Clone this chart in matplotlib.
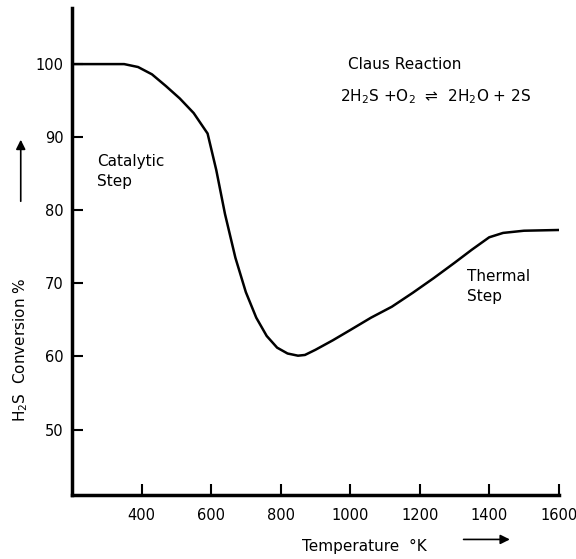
import matplotlib
matplotlib.use("Agg")
import matplotlib.pyplot as plt

# Claus process: H2S conversion vs temperature
temperature = [200, 300, 350, 390, 430, 470, 510, 550, 590, 615, 640, 670, 700,
               730, 760, 790, 820, 850, 870, 900, 950, 1000, 1060, 1120,
               1180, 1240, 1300, 1350, 1400, 1440, 1500, 1600]
conversion = [100, 100, 100, 99.6, 98.6, 97.0, 95.3, 93.3, 90.5, 85.5, 79.5, 73.5, 68.8,
              65.3, 62.8, 61.2, 60.4, 60.1, 60.2, 60.9, 62.2, 63.6, 65.3, 66.8,
              68.7, 70.7, 72.8, 74.6, 76.3, 76.9, 77.2, 77.3]
xticks = [400, 600, 800, 1000, 1200, 1400, 1600]
yticks = [50, 60, 70, 80, 90, 100]

fig = plt.figure(figsize=(5.76, 5.59), dpi=100)
ax = fig.add_axes([0.125, 0.114, 0.845, 0.872])

ax.plot(temperature, conversion, color="black", lw=1.8)

ax.set_xlim(200, 1600)
ax.set_ylim(41, 107.7)
ax.set_xticks(xticks)
ax.set_yticks(yticks)
ax.tick_params(direction="in", length=8, width=1.5, labelsize=10.5)
ax.tick_params(axis="x", pad=9)
ax.tick_params(axis="y", pad=6)
for s in ["top", "right"]:
    ax.spines[s].set_visible(False)
for s in ["left", "bottom"]:
    ax.spines[s].set_linewidth(2.5)

# axis titles with arrows, as in the original
fig.text(0.036, 0.375, "H$_2$S  Conversion %", rotation=90, ha="center",
         va="center", fontsize=11)
ax.annotate("", xy=(0.036, 0.755), xytext=(0.036, 0.635), xycoords="figure fraction",
            arrowprops=dict(arrowstyle="-|>", color="black", lw=1.2, mutation_scale=14))
fig.text(0.633, 0.022, "Temperature  °K", ha="center", va="center", fontsize=11)
ax.annotate("", xy=(0.89, 0.035), xytext=(0.80, 0.035), xycoords="figure fraction",
            arrowprops=dict(arrowstyle="-|>", color="black", lw=1.2, mutation_scale=14))

ax.text(272, 85.3, "Catalytic\nStep", fontsize=11, va="center", linespacing=1.4)
ax.text(1337, 69.6, "Thermal\nStep", fontsize=11, va="center", linespacing=1.4)
ax.text(1157, 99.9, "Claus Reaction", fontsize=11, ha="center", va="center")
ax.text(1246, 95.5, "2H$_2$S +O$_2$  \u21cc  2H$_2$O + 2S", fontsize=11,
        ha="center", va="center")

fig.savefig("out.png", dpi=100)
